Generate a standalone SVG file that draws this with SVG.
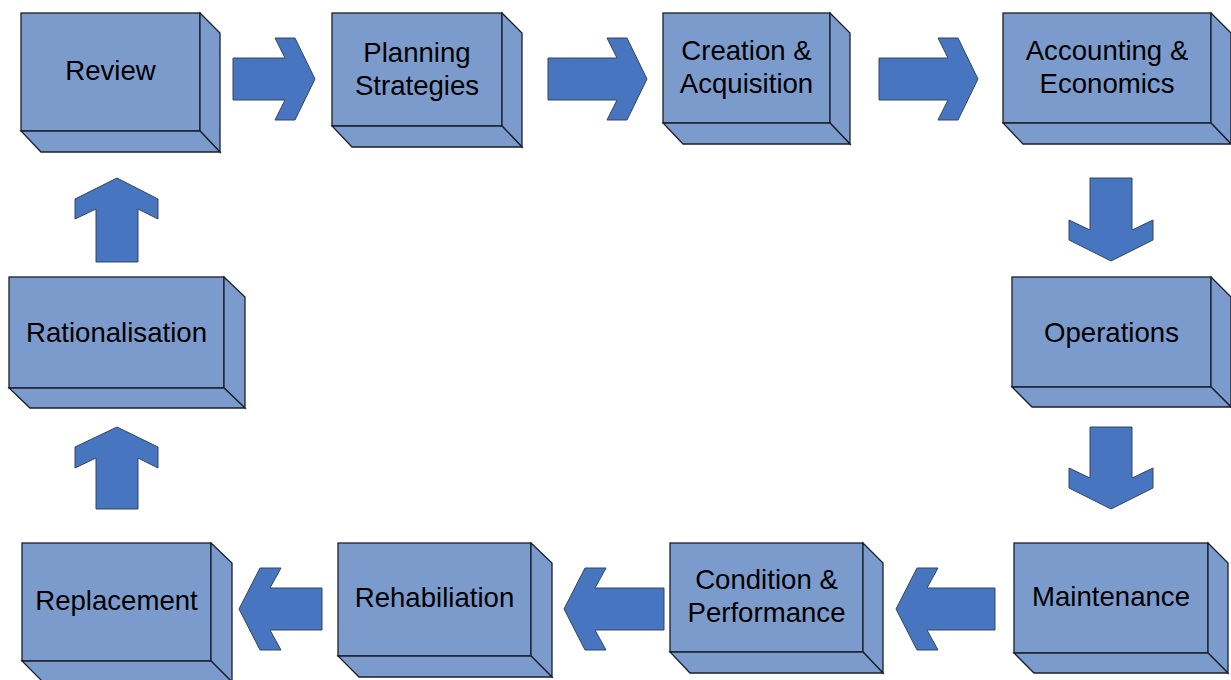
<svg xmlns="http://www.w3.org/2000/svg" width="1231" height="680" viewBox="0 0 1231 680">
<style>
.f{fill:#7B9BCD;stroke:#1b1f2a;stroke-width:1.3;stroke-linejoin:miter}
.a{fill:#4775BF;stroke:#35465f;stroke-width:1}
text{font-family:"Liberation Sans",Arial,sans-serif;font-size:27.6px;fill:#000;text-anchor:middle}
</style>
<rect width="1231" height="680" fill="#fff"/>
<g id="connectors">
<polygon class="a" points="233,58 285,58 275,38 295,38 315,79 295,120 275,120 285,100 233,100"/>
<polygon class="a" points="548,58 617,58 607,38 627,38 647,79 627,120 607,120 617,100 548,100"/>
<polygon class="a" points="879,58 948,58 938,38 958,38 978,79 958,120 938,120 948,100 879,100"/>
<polygon class="a" points="1090,178 1132,178 1132,230 1153,220 1153,240 1111,261 1069,240 1069,220 1090,230"/>
<polygon class="a" points="1090,427 1132,427 1132,478 1153,468 1153,488 1111,509 1069,488 1069,468 1090,478"/>
<polygon class="a" points="322,588 270,588 281,568 260,568 239,609 260,650 281,650 270,630 322,630"/>
<polygon class="a" points="664,588 595,588 606,568 585,568 564,609 585,650 606,650 595,630 664,630"/>
<polygon class="a" points="995,588 927,588 938,568 917,568 896,609 917,650 938,650 927,630 995,630"/>
<polygon class="a" points="96,509 96,458 75,468 75,447 117,427 158,447 158,468 138,458 138,509"/>
<polygon class="a" points="96,262 96,209 75,219 75,199 117,178 158,199 158,219 138,209 138,262"/>
</g>
<g id="review">
<rect class="f" x="21" y="13" width="179" height="118"/>
<polygon class="f" points="200,13 220,33 220,152 200,131"/>
<polygon class="f" points="21,131 200,131 220,152 41,152"/>
<text x="110.5" y="80">Review</text>
</g>
<g id="planning">
<rect class="f" x="332" y="13" width="170" height="113"/>
<polygon class="f" points="502,13 522,33 522,147 502,126"/>
<polygon class="f" points="332,126 502,126 522,147 352,147"/>
<text x="417" y="62">Planning</text>
<text x="417" y="95">Strategies</text>
</g>
<g id="creation">
<rect class="f" x="663" y="13" width="167" height="110"/>
<polygon class="f" points="830,13 850,33 850,144 830,123"/>
<polygon class="f" points="663,123 830,123 850,144 683,144"/>
<text x="746.5" y="60">Creation &amp;</text>
<text x="746.5" y="93">Acquisition</text>
</g>
<g id="accounting">
<rect class="f" x="1003" y="13" width="208" height="110"/>
<polygon class="f" points="1211,13 1231,33 1231,144 1211,123"/>
<polygon class="f" points="1003,123 1211,123 1231,144 1023,144"/>
<text x="1107" y="60">Accounting &amp;</text>
<text x="1107" y="93">Economics</text>
</g>
<g id="operations">
<rect class="f" x="1012" y="277" width="199" height="110"/>
<polygon class="f" points="1211,277 1231,297 1231,407 1211,387"/>
<polygon class="f" points="1012,387 1211,387 1231,407 1032,407"/>
<text x="1111.5" y="342">Operations</text>
</g>
<g id="maintenance">
<rect class="f" x="1014" y="543" width="194" height="110"/>
<polygon class="f" points="1208,543 1228,563 1228,673 1208,653"/>
<polygon class="f" points="1014,653 1208,653 1228,673 1034,673"/>
<text x="1111" y="606">Maintenance</text>
</g>
<g id="condition">
<rect class="f" x="670" y="543" width="193" height="109"/>
<polygon class="f" points="863,543 883,563 883,673 863,652"/>
<polygon class="f" points="670,652 863,652 883,673 690,673"/>
<text x="766.5" y="589">Condition &amp;</text>
<text x="766.5" y="622">Performance</text>
</g>
<g id="rehabiliation">
<rect class="f" x="338" y="543" width="193" height="113"/>
<polygon class="f" points="531,543 552,563 552,677 531,656"/>
<polygon class="f" points="338,656 531,656 552,677 359,677"/>
<text x="434.5" y="607">Rehabiliation</text>
</g>
<g id="replacement">
<rect class="f" x="22" y="543" width="189" height="118"/>
<polygon class="f" points="211,543 232,563 232,682 211,661"/>
<polygon class="f" points="22,661 211,661 232,682 43,682"/>
<text x="116.5" y="610">Replacement</text>
</g>
<g id="rationalisation">
<rect class="f" x="9" y="277" width="215" height="111"/>
<polygon class="f" points="224,277 245,297 245,408 224,388"/>
<polygon class="f" points="9,388 224,388 245,408 30,408"/>
<text x="116.5" y="342">Rationalisation</text>
</g>
</svg>
